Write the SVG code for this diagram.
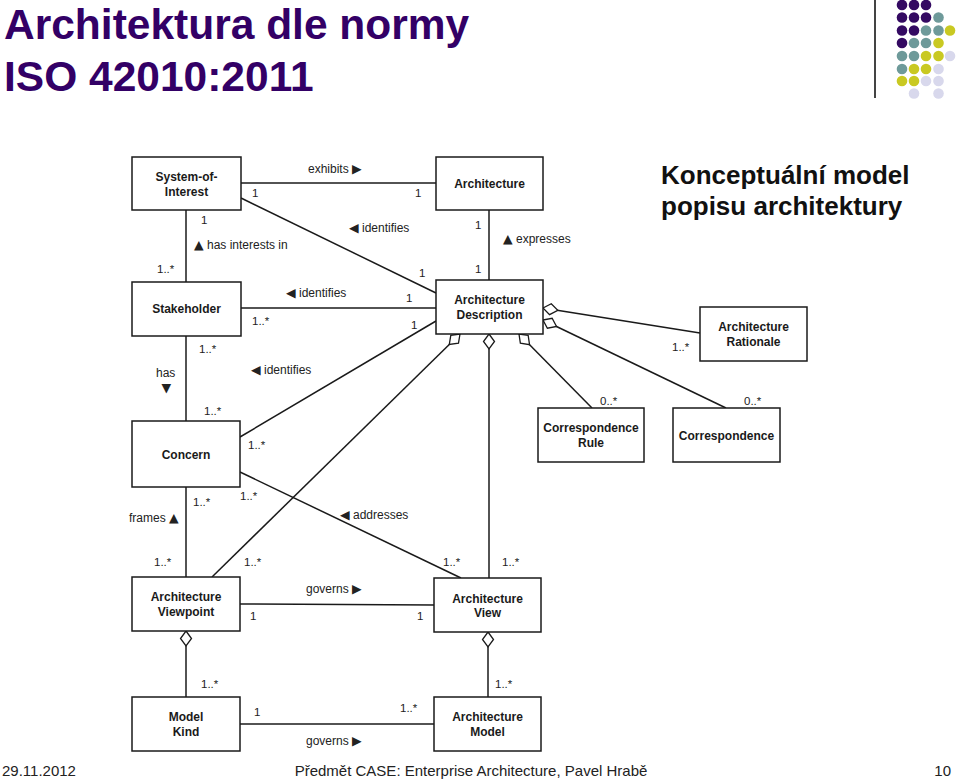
<svg xmlns="http://www.w3.org/2000/svg" width="960" height="779" viewBox="0 0 960 779">
<style>
.box{fill:#fff;stroke:#1a1a1a;stroke-width:1.5}
.bt{font-family:"Liberation Sans",Arial,sans-serif;font-weight:bold;font-size:12px;fill:#1a1a1a;text-anchor:middle}
.ln{stroke:#1a1a1a;stroke-width:1.5;fill:none}
.lb{font-family:"Liberation Sans",Arial,sans-serif;font-size:12px;fill:#222}
.tri{font-family:"DejaVu Sans",sans-serif;font-size:12.5px}
.m{font-family:"Liberation Sans",Arial,sans-serif;font-size:11.5px;fill:#222}
.P{fill:#340a62}.T{fill:#6e9a9a}.Y{fill:#c9c922}.L{fill:#d8d8ec}
</style>
<defs>
<marker id="dia" markerUnits="userSpaceOnUse" markerWidth="18" markerHeight="14" refX="0" refY="6" orient="auto" viewBox="-1 0 18 12">
<path d="M0,6 L7.5,0.5 L15,6 L7.5,11.5 Z" fill="#fff" stroke="#1a1a1a" stroke-width="1.3"/>
</marker>
</defs>
<rect width="960" height="779" fill="#fff"/>

<g id="title">
<text x="4" y="38.5" font-family="Liberation Sans,Arial,sans-serif" font-weight="bold" font-size="42.5" fill="#330066">Architektura dle normy</text>
<text x="4" y="90.5" font-family="Liberation Sans,Arial,sans-serif" font-weight="bold" font-size="42.5" fill="#330066">ISO 42010:2011</text>
</g>
<g id="subtitle">
<text x="661" y="184" font-family="Liberation Sans,Arial,sans-serif" font-weight="bold" font-size="26" fill="#111">Konceptuální model</text>
<text x="661" y="215" font-family="Liberation Sans,Arial,sans-serif" font-weight="bold" font-size="26" fill="#111">popisu architektury</text>
</g>
<g id="decor">
<line x1="875" y1="0" x2="875" y2="98" stroke="#444" stroke-width="2"/>
<g>
<circle class="P" cx="902" cy="5" r="5.3"/><circle class="P" cx="914" cy="5" r="5.3"/><circle class="P" cx="926" cy="5" r="5.3"/>
<circle class="P" cx="902" cy="17.5" r="5.3"/><circle class="P" cx="914" cy="17.5" r="5.3"/><circle class="P" cx="926" cy="17.5" r="5.3"/><circle class="T" cx="938.5" cy="17.5" r="5.3"/>
<circle class="P" cx="902" cy="30.5" r="5.3"/><circle class="P" cx="914" cy="30.5" r="5.3"/><circle class="T" cx="926" cy="30.5" r="5.3"/><circle class="T" cx="938.5" cy="30.5" r="5.3"/><circle class="Y" cx="950" cy="30.5" r="5.3"/>
<circle class="P" cx="902" cy="43" r="5.3"/><circle class="T" cx="914" cy="43" r="5.3"/><circle class="T" cx="926" cy="43" r="5.3"/><circle class="Y" cx="938.5" cy="43" r="5.3"/>
<circle class="T" cx="902" cy="56" r="5.3"/><circle class="T" cx="914" cy="56" r="5.3"/><circle class="Y" cx="926" cy="56" r="5.3"/><circle class="Y" cx="938.5" cy="56" r="5.3"/><circle class="L" cx="950" cy="56" r="5.3"/>
<circle class="T" cx="902" cy="69" r="5.3"/><circle class="Y" cx="914" cy="69" r="5.3"/><circle class="Y" cx="926" cy="69" r="5.3"/><circle class="L" cx="938.5" cy="69" r="5.3"/>
<circle class="Y" cx="902" cy="81" r="5.3"/><circle class="Y" cx="914" cy="81" r="5.3"/><circle class="L" cx="926" cy="81" r="5.3"/><circle class="L" cx="938.5" cy="81" r="5.3"/>
<circle class="L" cx="914" cy="93.5" r="5.3"/><circle class="L" cx="938.5" cy="93.5" r="5.3"/>
</g>
</g>

<g id="connectors">
<line class="ln" x1="241" y1="183" x2="436" y2="183"/>
<line class="ln" x1="241" y1="198" x2="436" y2="293"/>
<line class="ln" x1="489" y1="210" x2="489" y2="280"/>
<line class="ln" x1="186" y1="210" x2="186" y2="282"/>
<line class="ln" x1="241" y1="308" x2="436" y2="308"/>
<line class="ln" x1="240" y1="437" x2="436" y2="321"/>
<line class="ln" x1="186" y1="336" x2="186" y2="421"/>
<line class="ln" x1="186" y1="487" x2="186" y2="577"/>
<line class="ln" x1="240" y1="472" x2="461" y2="578"/>
<line class="ln" x1="460" y1="334" x2="212" y2="577" marker-start="url(#dia)"/>
<line class="ln" x1="489" y1="334" x2="489" y2="578" marker-start="url(#dia)"/>
<line class="ln" x1="519" y1="334" x2="592" y2="408" marker-start="url(#dia)"/>
<line class="ln" x1="543" y1="308" x2="700" y2="333" marker-start="url(#dia)"/>
<line class="ln" x1="543" y1="320" x2="726" y2="408" marker-start="url(#dia)"/>
<line class="ln" x1="240" y1="604" x2="434" y2="605"/>
<line class="ln" x1="186" y1="631" x2="186" y2="697" marker-start="url(#dia)"/>
<line class="ln" x1="488" y1="632" x2="488" y2="697" marker-start="url(#dia)"/>
<line class="ln" x1="240" y1="724" x2="434" y2="724"/>

<text class="lb" x="308" y="173">exhibits <tspan class="tri">▶</tspan></text>
<text class="lb" x="349" y="232"><tspan class="tri">◀</tspan> identifies</text>
<text class="lb" x="503" y="243"><tspan class="tri">▲</tspan> expresses</text>
<text class="lb" x="194" y="249"><tspan class="tri">▲</tspan> has interests in</text>
<text class="lb" x="286" y="297"><tspan class="tri">◀</tspan> identifies</text>
<text class="lb" x="251" y="374"><tspan class="tri">◀</tspan> identifies</text>
<text class="lb" x="156" y="377">has</text>
<text class="lb tri" x="161.5" y="392">▼</text>
<text class="lb" x="129" y="522">frames <tspan class="tri">▲</tspan></text>
<text class="lb" x="340" y="519"><tspan class="tri">◀</tspan> addresses</text>
<text class="lb" x="306" y="593">governs <tspan class="tri">▶</tspan></text>
<text class="lb" x="306" y="745">governs <tspan class="tri">▶</tspan></text>

<text class="m" x="252" y="197">1</text>
<text class="m" x="415" y="197">1</text>
<text class="m" x="201" y="224">1</text>
<text class="m" x="475" y="229">1</text>
<text class="m" x="475" y="273">1</text>
<text class="m" x="419" y="277">1</text>
<text class="m" x="157" y="273">1..*</text>
<text class="m" x="406" y="302">1</text>
<text class="m" x="252" y="325">1..*</text>
<text class="m" x="411" y="329">1</text>
<text class="m" x="199" y="353">1..*</text>
<text class="m" x="204" y="415">1..*</text>
<text class="m" x="248" y="449">1..*</text>
<text class="m" x="193" y="506">1..*</text>
<text class="m" x="240" y="500">1..*</text>
<text class="m" x="154" y="566">1..*</text>
<text class="m" x="244" y="566">1..*</text>
<text class="m" x="443" y="566">1..*</text>
<text class="m" x="502" y="566">1..*</text>
<text class="m" x="600" y="405">0..*</text>
<text class="m" x="744" y="405">0..*</text>
<text class="m" x="672" y="351">1..*</text>
<text class="m" x="250" y="620">1</text>
<text class="m" x="417" y="620">1</text>
<text class="m" x="201" y="688">1..*</text>
<text class="m" x="495" y="688">1..*</text>
<text class="m" x="254" y="716">1</text>
<text class="m" x="400" y="712">1..*</text>
</g>

<g id="system-of-interest"><rect class="box" x="132" y="157" width="109" height="53"/><text class="bt" x="186.5" y="181">System-of-</text><text class="bt" x="186.5" y="195.5">Interest</text></g>
<g id="architecture"><rect class="box" x="436" y="157" width="107" height="53"/><text class="bt" x="489.5" y="188">Architecture</text></g>
<g id="stakeholder"><rect class="box" x="132" y="282" width="109" height="54"/><text class="bt" x="186.5" y="313">Stakeholder</text></g>
<g id="architecture-description"><rect class="box" x="436" y="280" width="107" height="54"/><text class="bt" x="489.5" y="303.5">Architecture</text><text class="bt" x="489.5" y="318.5">Description</text></g>
<g id="architecture-rationale"><rect class="box" x="700" y="307" width="107" height="54"/><text class="bt" x="753.5" y="330.5">Architecture</text><text class="bt" x="753.5" y="346">Rationale</text></g>
<g id="correspondence-rule"><rect class="box" x="538" y="408" width="106" height="54"/><text class="bt" x="591" y="432">Correspondence</text><text class="bt" x="591" y="446.5">Rule</text></g>
<g id="correspondence"><rect class="box" x="673" y="408" width="107" height="54"/><text class="bt" x="726.5" y="439.5">Correspondence</text></g>
<g id="concern"><rect class="box" x="132" y="421" width="108" height="66"/><text class="bt" x="186" y="459">Concern</text></g>
<g id="architecture-viewpoint"><rect class="box" x="132" y="577" width="108" height="54"/><text class="bt" x="186" y="601">Architecture</text><text class="bt" x="186" y="615.5">Viewpoint</text></g>
<g id="architecture-view"><rect class="box" x="434" y="578" width="107" height="54"/><text class="bt" x="487.5" y="602.5">Architecture</text><text class="bt" x="487.5" y="617">View</text></g>
<g id="model-kind"><rect class="box" x="132" y="697" width="108" height="54"/><text class="bt" x="186" y="721">Model</text><text class="bt" x="186" y="736">Kind</text></g>
<g id="architecture-model"><rect class="box" x="434" y="697" width="107" height="54"/><text class="bt" x="487.5" y="721">Architecture</text><text class="bt" x="487.5" y="736">Model</text></g>

<g id="footer" font-family="Liberation Sans,Arial,sans-serif" font-size="15" fill="#222">
<text x="2" y="775.5">29.11.2012</text>
<text x="471" y="775.5" text-anchor="middle">Předmět CASE: Enterprise Architecture, Pavel Hrabě</text>
<text x="951" y="775.5" text-anchor="end">10</text>
</g>
</svg>
